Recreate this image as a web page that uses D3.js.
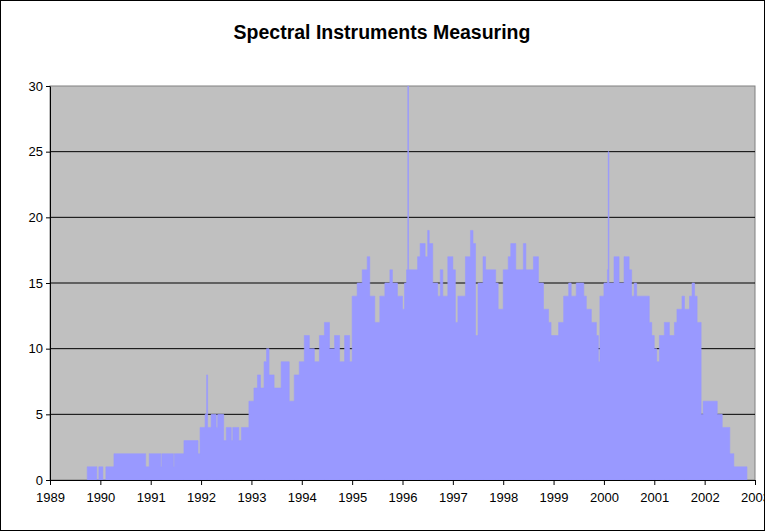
<!DOCTYPE html>
<html><head><meta charset="utf-8">
<script src="https://cdn.jsdelivr.net/npm/d3@7"></script>
<style>body{margin:0;background:#fff}svg{font-family:"Liberation Sans",Arial,sans-serif}</style>
</head><body><div id="chart"></div>
<script>
// step change points: decimal year -> instruments measuring
const years = [1989.74,1989.93,1989.97,1990.05,1990.11,1990.27,1990.9,1990.97,1991.2,1991.22,1991.45,1991.47,1991.66,1991.94,1991.98,1992.08,1992.11,1992.13,1992.2,1992.3,1992.33,1992.45,1992.5,1992.6,1992.63,1992.75,1992.8,1992.95,1993.05,1993.12,1993.18,1993.25,1993.3,1993.35,1993.45,1993.59,1993.75,1993.85,1993.95,1994.05,1994.15,1994.25,1994.35,1994.45,1994.55,1994.65,1994.75,1994.85,1994.95,1995.0,1995.1,1995.2,1995.3,1995.35,1995.45,1995.55,1995.65,1995.75,1995.8,1995.9,1996.0,1996.04,1996.08,1996.105,1996.12,1996.3,1996.35,1996.45,1996.5,1996.53,1996.6,1996.7,1996.75,1996.8,1996.9,1997.0,1997.05,1997.1,1997.25,1997.35,1997.4,1997.45,1997.5,1997.6,1997.65,1997.85,1997.9,1998.0,1998.1,1998.15,1998.25,1998.4,1998.45,1998.6,1998.7,1998.8,1998.9,1998.95,1999.1,1999.2,1999.3,1999.35,1999.45,1999.6,1999.65,1999.75,1999.85,1999.89,1999.92,2000.0,2000.07,2000.085,2000.1,2000.2,2000.3,2000.4,2000.5,2000.55,2000.6,2000.65,2000.9,2000.95,2001.0,2001.05,2001.1,2001.2,2001.3,2001.4,2001.45,2001.55,2001.6,2001.7,2001.75,2001.8,2001.85,2001.93,2001.97,2002.25,2002.35,2002.5,2002.58,2002.84];
const counts = [1,0,1,0,1,2,1,2,1,2,1,2,3,2,4,5,8,4,5,4,5,3,4,3,4,3,4,6,7,8,7,9,10,8,7,9,6,8,9,11,10,9,11,12,10,11,9,11,9,14,15,16,17,14,12,14,15,16,15,14,13,15,16,30,16,17,18,17,19,18,15,14,16,14,17,16,12,14,17,19,18,11,15,17,16,15,13,16,17,18,16,18,16,17,15,13,12,11,12,14,15,14,15,14,13,12,11,9,14,15,16,25,15,17,15,17,16,14,15,14,12,11,10,9,11,12,11,12,13,14,13,14,15,14,12,5,6,5,4,2,1,0];
const yTicks = [0,5,10,15,20,25,30];
const xTicks = d3.range(1989, 2004);

const W = 765, H = 531, m = {l:50, r:10, t:86, b:51};
const svg = d3.select('#chart').append('svg').attr('width', W).attr('height', H);
svg.append('rect').attr('x',0.5).attr('y',0.5).attr('width',W-1).attr('height',H-1).attr('fill','#fff').attr('stroke','#000');

const x = d3.scaleLinear().domain([1989, 2003]).range([m.l, W - m.r]);
const y = d3.scaleLinear().domain([0, 30]).range([H - m.b, m.t]);

svg.append('rect').attr('x', m.l).attr('y', m.t).attr('width', W - m.r - m.l).attr('height', H - m.b - m.t)
  .attr('fill', '#C0C0C0').attr('stroke', '#808080');

svg.append('g').selectAll('line').data(yTicks.slice(1, -1)).join('line')
  .attr('x1', m.l).attr('x2', W - m.r).attr('y1', d => y(d)).attr('y2', d => y(d))
  .attr('stroke', '#000');

const pts = years.map((d, i) => [d, counts[i]]);
const area = d3.area().x(d => x(d[0])).y0(y(0)).y1(d => y(d[1])).curve(d3.curveStepAfter);
svg.append('path').datum(pts).attr('d', area).attr('fill', '#9999FF').attr('stroke', '#9999FF').attr('stroke-width', 0.6);

const xa = svg.append('g').attr('transform', `translate(0,${H - m.b})`)
  .call(d3.axisBottom(x).tickValues(xTicks).tickFormat(d3.format('d')).tickSize(5).tickSizeOuter(0));
const ya = svg.append('g').attr('transform', `translate(${m.l},0)`)
  .call(d3.axisLeft(y).tickValues(yTicks).tickSize(4).tickSizeOuter(0));
[xa, ya].forEach(a => {
  a.selectAll('path,line').attr('stroke', '#000');
  a.selectAll('text').attr('font-size', 13).attr('fill', '#000').attr('font-family', '"Liberation Sans",Arial,sans-serif');
});
xa.selectAll('text').attr('dy', '1.1em');

svg.append('text').attr('x', 382).attr('y', 39).attr('text-anchor', 'middle')
  .attr('font-size', 19.5).attr('font-weight', 'bold').text('Spectral Instruments Measuring');
</script></body></html>
